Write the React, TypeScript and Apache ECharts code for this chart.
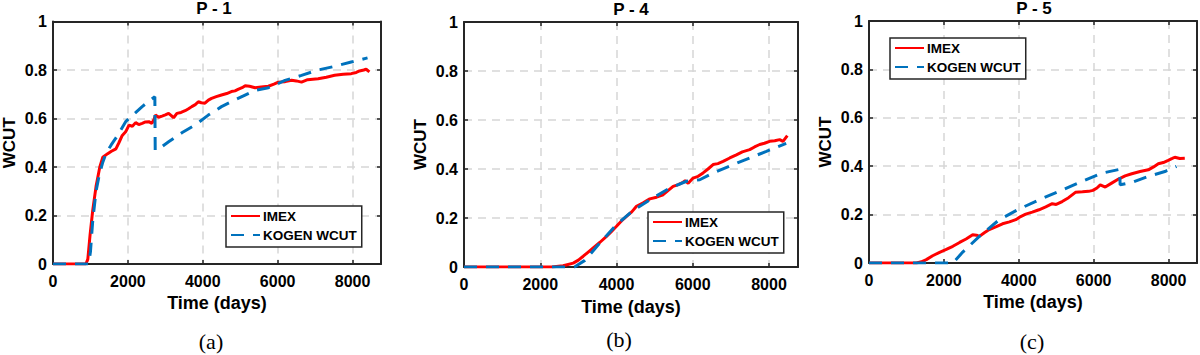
import React, { useEffect, useRef } from "react";
import * as echarts from "echarts";

// ---------- data ----------
const panelTitles = ["P - 1", "P - 4", "P - 5"];
const panelCaptions = ["(a)", "(b)", "(c)"];
const seriesNames = ["IMEX", "KOGEN WCUT"];
const xTickStep = 2000;
const yTickStep = 0.2;
const xMax = 8760;
const yMax = 1;

const p1Imex = [
  [0, 0], [880, 0], [930, 0.02], [990, 0.12], [1060, 0.22], [1150, 0.32], [1250, 0.4], [1330, 0.44],
  [1460, 0.455], [1560, 0.465], [1680, 0.475], [1760, 0.5], [1850, 0.53], [1940, 0.545], [2030, 0.573],
  [2120, 0.568], [2206, 0.583], [2290, 0.575], [2382, 0.58], [2470, 0.586], [2559, 0.587], [2640, 0.58],
  [2700, 0.597], [2735, 0.614], [2820, 0.605], [2912, 0.61], [3000, 0.615], [3088, 0.621], [3160, 0.612],
  [3220, 0.603], [3309, 0.621], [3420, 0.625], [3529, 0.632], [3620, 0.64], [3706, 0.649], [3800, 0.657],
  [3882, 0.669], [3960, 0.665], [4058, 0.663], [4150, 0.676], [4235, 0.683], [4360, 0.69], [4500, 0.697],
  [4640, 0.703], [4764, 0.711], [4860, 0.714], [4941, 0.72], [5050, 0.727], [5133, 0.735], [5250, 0.733],
  [5398, 0.727], [5560, 0.73], [5752, 0.733], [5900, 0.742], [6018, 0.75], [6200, 0.752], [6372, 0.758],
  [6500, 0.755], [6637, 0.75], [6800, 0.76], [7080, 0.764], [7300, 0.77], [7522, 0.778], [7750, 0.782],
  [7965, 0.785], [8100, 0.79], [8186, 0.796], [8300, 0.8], [8363, 0.803], [8451, 0.792],
];
const p1Kogen = [
  [0, 0], [950, 0], [1000, 0.05], [1062, 0.18], [1150, 0.3], [1239, 0.37], [1330, 0.42], [1416, 0.456],
  [1550, 0.49], [1681, 0.52], [1800, 0.55], [1940, 0.587], [2100, 0.61], [2382, 0.649], [2550, 0.67],
  [2720, 0.69], [2730, 0.47], [2779, 0.47], [3088, 0.504], [3441, 0.541], [3794, 0.573], [4147, 0.614],
  [4500, 0.649], [4853, 0.676], [5398, 0.716], [5752, 0.727], [6195, 0.757], [6637, 0.778], [7080, 0.8],
  [7522, 0.815], [7965, 0.833], [8400, 0.85],
];
const p4Imex = [
  [0, 0], [2300, 0], [2600, 0.005], [2865, 0.016], [3000, 0.028], [3127, 0.044], [3250, 0.06], [3389, 0.078],
  [3560, 0.1], [3738, 0.125], [3870, 0.145], [4000, 0.166], [4130, 0.188], [4262, 0.207], [4400, 0.225],
  [4524, 0.248], [4700, 0.262], [4873, 0.278], [5050, 0.285], [5223, 0.295], [5350, 0.312], [5485, 0.329],
  [5620, 0.336], [5747, 0.346], [5800, 0.352], [5880, 0.342], [6009, 0.363], [6140, 0.37], [6271, 0.384],
  [6400, 0.4], [6533, 0.418], [6660, 0.422], [6795, 0.431], [6970, 0.445], [7144, 0.458], [7300, 0.47],
  [7493, 0.479], [7620, 0.49], [7755, 0.5], [7880, 0.505], [8017, 0.513], [8150, 0.515], [8279, 0.52],
  [8367, 0.513], [8480, 0.536],
];
const p4Kogen = [
  [0, 0], [2900, 0], [3000, 0.01], [3170, 0.027], [3563, 0.098], [4000, 0.173], [4437, 0.231], [4961, 0.282],
  [5397, 0.322], [5834, 0.35], [6183, 0.356], [6533, 0.384], [7057, 0.418], [7493, 0.445], [7930, 0.472],
  [8450, 0.505],
];
const p5Imex = [
  [0, 0], [1265, 0], [1400, 0.005], [1531, 0.014], [1700, 0.03], [1885, 0.044], [2050, 0.055], [2239, 0.069],
  [2420, 0.085], [2593, 0.099], [2770, 0.117], [2870, 0.115], [2947, 0.11], [3080, 0.125], [3212, 0.138],
  [3400, 0.15], [3566, 0.162], [3750, 0.17], [3920, 0.179], [4050, 0.192], [4186, 0.202], [4360, 0.21],
  [4540, 0.22], [4720, 0.232], [4894, 0.245], [5000, 0.242], [5159, 0.254], [5330, 0.27], [5513, 0.292],
  [5700, 0.294], [5867, 0.296], [5980, 0.3], [6088, 0.31], [6177, 0.323], [6310, 0.314], [6480, 0.33],
  [6664, 0.347], [6840, 0.36], [7018, 0.369], [7240, 0.378], [7460, 0.385], [7600, 0.397], [7726, 0.41],
  [7860, 0.415], [7991, 0.424], [8100, 0.432], [8168, 0.437], [8300, 0.432], [8434, 0.433],
];
const p5Kogen = [
  [0, 0], [2240, 0], [2504, 0.045], [2947, 0.11], [3478, 0.179], [4009, 0.223], [4540, 0.261], [5071, 0.296],
  [5690, 0.337], [6221, 0.371], [6690, 0.387], [6708, 0.323], [7018, 0.333], [7460, 0.358], [7903, 0.378],
  [8212, 0.399],
];

const imexData = [p1Imex, p4Imex, p5Imex];
const kogenData = [p1Kogen, p4Kogen, p5Kogen];

// ---------- layout / style ----------
const grids = [
  { left: 50, top: 21.5, width: 331, height: 242.5 },
  { left: 464, top: 22, width: 334, height: 245 },
  { left: 869, top: 21, width: 329, height: 242 },
];
const legendPos = [
  { left: 226, top: 206 },
  { left: 648, top: 212 },
  { left: 890, top: 38 },
];
const titlePos = [
  { x: 214, y: 8.5 },
  { x: 631, y: 9 },
  { x: 1034, y: 8.5 },
];
const captionPos = [
  { x: 211, y: 341 },
  { x: 619, y: 339 },
  { x: 1032, y: 341 },
];
const xNameGaps = [29, 31, 28];

const SANS = '"Liberation Sans", Arial, Helvetica, sans-serif';
const AXIS_COLOR = "#262626";
const GRID_COLOR = "#d6d6d6";
const RED = "#ff0000";
const BLUE = "#0072bd";

function buildOption() {
  const xAxis: any[] = [];
  const yAxis: any[] = [];
  const series: any[] = [];
  const legend: any[] = [];
  const graphic: any[] = [];

  grids.forEach((g, i) => {
    xAxis.push({
      type: "value",
      gridIndex: i,
      position: "bottom",
      min: 0,
      max: xMax,
      interval: xTickStep,
      name: "Time (days)",
      nameLocation: "middle",
      nameGap: xNameGaps[i],
      nameTextStyle: { fontFamily: SANS, fontWeight: "bold", fontSize: 18, color: "#000" },
      axisLine: { show: true, onZero: false, lineStyle: { color: AXIS_COLOR, width: 2 } },
      axisTick: { show: true, inside: true, length: 4, lineStyle: { color: AXIS_COLOR, width: 1.5 } },
      axisLabel: {
        show: true,
        margin: 9,
        fontFamily: SANS,
        fontWeight: "bold",
        fontSize: 16,
        color: "#000",
        formatter: (v: number) => (v % xTickStep === 0 ? String(v) : ""),
      },
      splitLine: { show: true, lineStyle: { color: GRID_COLOR, width: 1.5, type: [8, 6] } },
    });
    xAxis.push({
      type: "value",
      gridIndex: i,
      position: "top",
      min: 0,
      max: xMax,
      interval: xTickStep,
      axisLine: { show: true, onZero: false, lineStyle: { color: AXIS_COLOR, width: 2 } },
      axisTick: { show: true, inside: true, length: 4, lineStyle: { color: AXIS_COLOR, width: 1.5 } },
      axisLabel: { show: false },
      splitLine: { show: false },
    });
    yAxis.push({
      type: "value",
      gridIndex: i,
      position: "left",
      min: 0,
      max: yMax,
      interval: yTickStep,
      name: "WCUT",
      nameLocation: "middle",
      nameRotate: 90,
      nameGap: 35,
      nameTextStyle: { fontFamily: SANS, fontWeight: "bold", fontSize: 17, color: "#000" },
      axisLine: { show: true, onZero: false, lineStyle: { color: AXIS_COLOR, width: 2 } },
      axisTick: { show: true, inside: true, length: 4, lineStyle: { color: AXIS_COLOR, width: 1.5 } },
      axisLabel: { show: true, margin: 6, fontFamily: SANS, fontWeight: "bold", fontSize: 16, color: "#000" },
      splitLine: { show: true, lineStyle: { color: GRID_COLOR, width: 1.5, type: [8, 6] } },
    });
    yAxis.push({
      type: "value",
      gridIndex: i,
      position: "right",
      min: 0,
      max: yMax,
      interval: yTickStep,
      axisLine: { show: true, onZero: false, lineStyle: { color: AXIS_COLOR, width: 2 } },
      axisTick: { show: true, inside: true, length: 4, lineStyle: { color: AXIS_COLOR, width: 1.5 } },
      axisLabel: { show: false },
      splitLine: { show: false },
    });

    series.push({
      type: "line",
      name: seriesNames[0],
      xAxisIndex: i * 2,
      yAxisIndex: i * 2,
      data: imexData[i],
      showSymbol: false,
      symbol: "none",
      lineStyle: { color: RED, width: 3 },
      itemStyle: { color: RED },
      z: 3,
    });
    series.push({
      type: "line",
      name: seriesNames[1],
      xAxisIndex: i * 2,
      yAxisIndex: i * 2,
      data: kogenData[i],
      showSymbol: false,
      symbol: "none",
      lineStyle: { color: BLUE, width: 3, type: [13, 9] },
      itemStyle: { color: BLUE },
      z: 4,
    });

    legend.push({
      left: legendPos[i].left,
      top: legendPos[i].top,
      orient: "vertical",
      data: seriesNames,
      backgroundColor: "#fff",
      borderColor: AXIS_COLOR,
      borderWidth: 1.5,
      borderRadius: 0,
      padding: [3, 5, 5, 4],
      itemGap: 5,
      itemWidth: 29,
      itemHeight: 14,
      selectedMode: false,
      itemStyle: { opacity: 0 },
      textStyle: { fontFamily: SANS, fontWeight: "bold", fontSize: 13.5, color: "#000", padding: [0, 0, 0, -2] },
      z: 10,
    });

    graphic.push({
      type: "text",
      x: titlePos[i].x,
      y: titlePos[i].y,
      style: {
        text: panelTitles[i],
        fontFamily: SANS,
        fontWeight: "bold",
        fontSize: 17,
        fill: "#000",
        align: "center",
        verticalAlign: "middle",
      },
    });
    graphic.push({
      type: "text",
      x: captionPos[i].x,
      y: captionPos[i].y,
      style: {
        text: panelCaptions[i],
        fontFamily: '"Liberation Serif", "Times New Roman", serif',
        fontSize: 22,
        fill: "#000",
        align: "center",
        verticalAlign: "middle",
      },
    });
  });

  return {
    animation: false,
    backgroundColor: "#fff",
    grid: grids.map((g) => ({ ...g, containLabel: false })),
    xAxis,
    yAxis,
    series,
    legend,
    graphic,
  };
}

export default function App() {
  const ref = useRef<HTMLDivElement>(null);
  useEffect(() => {
    if (!ref.current) return;
    const chart = echarts.init(ref.current, undefined, { renderer: "svg" });
    chart.setOption(buildOption() as any);
    return () => chart.dispose();
  }, []);
  return (
    <div
      ref={ref}
      style={{ position: "absolute", left: 0, top: 0, width: 1200, height: 355, background: "#fff" }}
    />
  );
}
